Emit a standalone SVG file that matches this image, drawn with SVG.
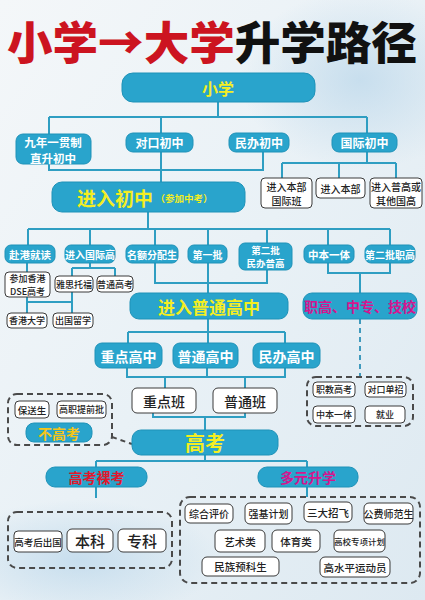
<svg xmlns="http://www.w3.org/2000/svg" width="425" height="600" viewBox="0 0 425 600">
<defs>
<linearGradient id="bg" x1="0" y1="0" x2="1" y2="1">
<stop offset="0" stop-color="#f4f7f9"/>
<stop offset="0.5" stop-color="#e9f1f6"/>
<stop offset="1" stop-color="#dde9f1"/>
</linearGradient>
<radialGradient id="cloud" cx="0.5" cy="0.5" r="0.5">
<stop offset="0" stop-color="#b9d6ea" stop-opacity="0.7"/>
<stop offset="1" stop-color="#b9d6ea" stop-opacity="0"/>
</radialGradient>
</defs>
<style>
text{font-family:"Noto Sans CJK SC","Noto Sans",sans-serif;text-anchor:middle;dominant-baseline:central}
.n{fill:#29a4cc;stroke:#1f92b8;stroke-width:1}
.w{fill:#ffffff;stroke:#3a3a3a;stroke-width:1}
.d{fill:none;stroke:#4a4a4a;stroke-width:2;stroke-dasharray:6 4}
.t{fill:#ffffff;font-weight:700}
.y{fill:#f4ee22;font-weight:700}
.k{fill:#222222;font-weight:500}
.m{fill:#d4168f;font-weight:700}
.r{fill:#e0182c;font-weight:700}
#conn path{fill:none;stroke:#2f9ec2;stroke-width:2}
#conn .dash{stroke-dasharray:5 4;stroke:#3f9abd}
#conn .dash2{stroke-dasharray:5 4;stroke:#4a4a4a}
</style>
<rect x="0" y="0" width="425" height="600" fill="url(#bg)"/>
<ellipse cx="360" cy="80" rx="120" ry="90" fill="url(#cloud)"/>
<ellipse cx="80" cy="560" rx="140" ry="60" fill="url(#cloud)"/>

<g id="title">
<text x="7" y="60" textLength="410" lengthAdjust="spacingAndGlyphs" style="text-anchor:start;dominant-baseline:alphabetic;font-size:45px;font-weight:900"><tspan fill="#cc1420">小学→大学</tspan><tspan fill="#111111">升学路径</tspan></text>
</g>

<g id="conn">
<path d="M218 102V117M49 117H367M49 117V134M161 117V133M367 117V133"/>
<path d="M49 164V170H263V152M161 152V182"/>
<path d="M367 152V163M282 163H396M282 163V178M339 163V178M396 163V178"/>
<path d="M148 212V229M28 229H390M28 229V245M90 229V245M155 229V245M208 229V245M267 229V243M328 229V245M390 229V245"/>
<path d="M27 263V272M90 263V268M72 268H115M72 268V276M115 268V276"/>
<path d="M27 297V313M27 302H72M72 292V313"/>
<path d="M155 263V283H267V270M208 263V293"/>
<path d="M328 263V273H390V263M360 273V293"/>
<path class="dash" d="M360 319V377"/>
<path d="M208 319V332M128 332H285M128 332V343M208 332V343M285 332V343"/>
<path d="M127 368V377H285V368M207 368V377M165 377V388M245 377V388"/>
<path d="M153 413V417H245V413M205 417V430"/>
<path class="dash2" d="M112 437L132 444"/>
<path d="M205 455V461M96 461H307M96 461V467M307 461V467"/>
<path d="M96 487V498M307 487V497"/>
</g>

<g id="n-xiaoxue"><rect class="n" x="122" y="73" width="193" height="29" rx="11"/><text class="y" x="218" y="88" font-size="16">小学</text></g>

<g id="n-jiunian"><rect class="n" x="16" y="134" width="75" height="30" rx="7"/><text class="t" x="53" y="141.5" font-size="11.5">九年一贯制</text><text class="t" x="53" y="157.5" font-size="11.5">直升初中</text></g>
<g id="n-duikou"><rect class="n" x="126" y="133" width="67" height="19" rx="7"/><text class="t" x="159.5" y="142.5" font-size="12">对口初中</text></g>
<g id="n-minban"><rect class="n" x="229" y="133" width="60" height="19" rx="7"/><text class="t" x="259" y="142.5" font-size="12">民办初中</text></g>
<g id="n-guoji"><rect class="n" x="332" y="133" width="65" height="19" rx="7"/><text class="t" x="364.5" y="142.5" font-size="12">国际初中</text></g>

<g id="n-benbu-gjb"><rect class="w" x="261" y="178" width="51" height="30" rx="4"/><text class="k" x="286.5" y="186" font-size="10">进入本部</text><text class="k" x="286.5" y="200" font-size="10">国际班</text></g>
<g id="n-benbu"><rect class="w" x="316" y="178" width="49" height="20" rx="4"/><text class="k" x="340.5" y="188" font-size="10">进入本部</text></g>
<g id="n-pugao"><rect class="w" x="370" y="178" width="52" height="30" rx="4"/><text class="k" x="396" y="186" font-size="10">进入普高或</text><text class="k" x="396" y="200" font-size="10">其他国高</text></g>

<g id="n-chuzhong"><rect class="n" x="52" y="182" width="193" height="30" rx="10"/><text class="y" x="115" y="197" font-size="19">进入初中</text><text class="y" x="184" y="198" font-size="9.5">（参加中考）</text></g>

<g id="n-fugang"><rect class="n" x="5" y="245" width="50" height="18" rx="6"/><text class="t" x="30" y="254" font-size="10.5">赴港就读</text></g>
<g id="n-guojigao"><rect class="n" x="65" y="245" width="50" height="18" rx="6"/><text class="t" x="90" y="254" font-size="10">进入国际高</text></g>
<g id="n-minge"><rect class="n" x="126" y="245" width="52" height="18" rx="6"/><text class="t" x="152" y="254" font-size="10">名额分配生</text></g>
<g id="n-diyipi"><rect class="n" x="188" y="245" width="39" height="18" rx="6"/><text class="t" x="207.5" y="254" font-size="10">第一批</text></g>
<g id="n-dierpi"><rect class="n" x="239" y="243" width="53" height="27" rx="6"/><text class="t" x="265.5" y="249.5" font-size="9.5">第二批</text><text class="t" x="265.5" y="263" font-size="9.5">民办普高</text></g>
<g id="n-zhongben"><rect class="n" x="304" y="245" width="50" height="18" rx="6"/><text class="t" x="329" y="254" font-size="10.5">中本一体</text></g>
<g id="n-dierzhigao"><rect class="n" x="365" y="245" width="50" height="18" rx="6"/><text class="t" x="390" y="254" font-size="10">第二批职高</text></g>

<g id="n-dse"><rect class="w" x="5" y="272" width="45" height="25" rx="4"/><text class="k" x="27.5" y="278" font-size="9">参加香港</text><text class="k" x="27.5" y="291" font-size="9">DSE高考</text></g>
<g id="n-yasi"><rect class="w" x="55" y="276" width="38" height="16" rx="4"/><text class="k" x="74" y="284" font-size="9">雅思托福</text></g>
<g id="n-putonggaokao"><rect class="w" x="97" y="276" width="36" height="16" rx="4"/><text class="k" x="115" y="284" font-size="9">普通高考</text></g>
<g id="n-xianggang"><rect class="w" x="7" y="313" width="40" height="15" rx="4"/><text class="k" x="27" y="320.5" font-size="9">香港大学</text></g>
<g id="n-chuguo"><rect class="w" x="53" y="313" width="40" height="15" rx="4"/><text class="k" x="73" y="320.5" font-size="9">出国留学</text></g>

<g id="n-putonggaozhong"><rect class="n" x="130" y="293" width="158" height="26" rx="9"/><text class="y" x="209" y="306" font-size="17">进入普通高中</text></g>
<g id="n-zhigao"><rect class="n" x="303" y="293" width="114" height="26" rx="9"/><text class="m" x="360" y="306" font-size="14">职高、中专、技校</text></g>

<g id="n-zhongdian"><rect class="n" x="95" y="343" width="67" height="25" rx="7"/><text class="t" x="128.5" y="355.5" font-size="14" font-weight="500">重点高中</text></g>
<g id="n-putong"><rect class="n" x="173" y="343" width="65" height="25" rx="7"/><text class="t" x="205.5" y="355.5" font-size="14" font-weight="500">普通高中</text></g>
<g id="n-minbangao"><rect class="n" x="253" y="343" width="67" height="25" rx="7"/><text class="t" x="286.5" y="355.5" font-size="14" font-weight="500">民办高中</text></g>

<g id="n-zdb"><rect class="w" x="132" y="388" width="64" height="25" rx="5"/><text class="k" x="164" y="400.5" font-size="14" font-weight="700">重点班</text></g>
<g id="n-ptb"><rect class="w" x="213" y="388" width="64" height="25" rx="5"/><text class="k" x="245" y="400.5" font-size="14" font-weight="700">普通班</text></g>

<g id="n-bugaokao-group">
<rect class="d" x="8" y="394" width="104" height="51" rx="9"/>
<rect class="w" x="15" y="401" width="34" height="17" rx="4"/><text class="k" x="32" y="409.5" font-size="9.5">保送生</text>
<rect class="w" x="57" y="401" width="49" height="17" rx="4"/><text class="k" x="81.5" y="409.5" font-size="9">高职提前批</text>
<rect class="n" x="26" y="423" width="66" height="19" rx="8"/><text x="59" y="432.5" font-size="14" font-weight="700" fill="#f5c518">不高考</text>
</g>

<g id="n-zhijiao-group">
<rect class="d" x="307" y="377" width="106" height="49" rx="9"/>
<rect class="w" x="313" y="382" width="42" height="15" rx="4"/><text class="k" x="334" y="389.5" font-size="9">职教高考</text>
<rect class="w" x="365" y="382" width="41" height="15" rx="4"/><text class="k" x="385.5" y="389.5" font-size="9">对口单招</text>
<rect class="w" x="313" y="406" width="42" height="17" rx="4"/><text class="k" x="334" y="414.5" font-size="9">中本一体</text>
<rect class="w" x="365" y="406" width="40" height="17" rx="4"/><text class="k" x="385" y="414.5" font-size="9">就业</text>
</g>

<g id="n-gaokao"><rect class="n" x="132" y="430" width="146" height="25" rx="9"/><text class="y" x="205" y="442.5" font-size="20">高考</text></g>

<g id="n-luokao"><rect class="n" x="46" y="467" width="101" height="20" rx="9"/><text class="r" x="96.5" y="477" font-size="14">高考裸考</text></g>
<g id="n-duoyuan"><rect class="n" x="258" y="467" width="100" height="20" rx="9"/><text class="m" x="308" y="477" font-size="14">多元升学</text></g>

<g id="n-luokao-group">
<rect class="d" x="8" y="512" width="164" height="56" rx="9"/>
<rect class="w" x="14" y="531" width="48" height="21" rx="4"/><text class="k" x="38" y="541.5" font-size="9.5">高考后出国</text>
<rect class="w" x="67" y="529" width="46" height="23" rx="5"/><text class="k" x="90" y="540.5" font-size="15" font-weight="700">本科</text>
<rect class="w" x="118" y="529" width="48" height="23" rx="5"/><text class="k" x="142" y="540.5" font-size="15" font-weight="700">专科</text>
</g>

<g id="n-duoyuan-group">
<rect class="d" x="180" y="497" width="240" height="86" rx="10"/>
<rect class="w" x="185" y="504" width="48" height="19" rx="5"/><text class="k" x="209" y="513.5" font-size="10">综合评价</text>
<rect class="w" x="245" y="503" width="47" height="21" rx="5"/><text class="k" x="268.5" y="513.5" font-size="10">强基计划</text>
<rect class="w" x="304" y="502" width="48" height="20" rx="5"/><text class="k" x="328" y="512" font-size="10.5">三大招飞</text>
<rect class="w" x="364" y="503" width="49" height="21" rx="5"/><text class="k" x="388.5" y="513.5" font-size="10">公费师范生</text>
<rect class="w" x="215" y="530" width="50" height="22" rx="5"/><text class="k" x="240" y="541" font-size="10.5">艺术类</text>
<rect class="w" x="272" y="530" width="48" height="22" rx="5"/><text class="k" x="296" y="541" font-size="10.5">体育类</text>
<rect class="w" x="334" y="530" width="51" height="22" rx="5"/><text class="k" x="359.5" y="541" font-size="8.5">高校专项计划</text>
<rect class="w" x="202" y="557" width="77" height="19" rx="5"/><text class="k" x="240.5" y="566.5" font-size="10.5">民族预科生</text>
<rect class="w" x="320" y="557" width="70" height="20" rx="5"/><text class="k" x="355" y="567" font-size="10.5">高水平运动员</text>
</g>
</svg>
